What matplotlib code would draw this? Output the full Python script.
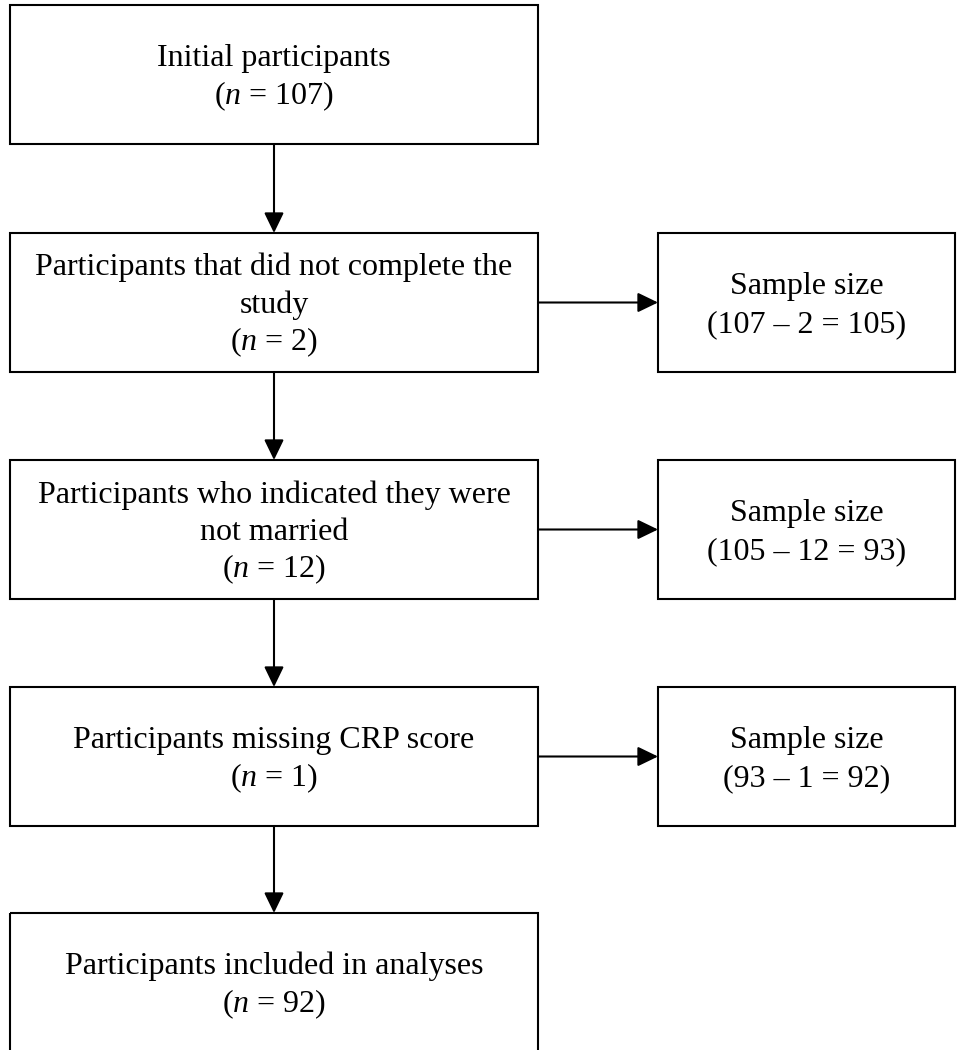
import matplotlib.pyplot as plt
from matplotlib.patches import Rectangle

plt.rcParams["font.family"] = "Liberation Serif"
plt.rcParams["mathtext.fontset"] = "custom"
plt.rcParams["mathtext.rm"] = "Liberation Serif"
plt.rcParams["mathtext.it"] = "Liberation Serif:italic"

# flow data
left_titles = [["Initial participants"],
               ["Participants that did not complete the", "study"],
               ["Participants who indicated they were", "not married"],
               ["Participants missing CRP score"],
               ["Participants included in analyses"]]
left_n = [107, 2, 12, 1, 92]
start_n = [107, 105, 93]
removed_n = [2, 12, 1]
left_n_after = [105, 93, 92]

# layout in pixels (y down)
W, H = 957, 1050
lx0, lx1 = 10, 538
rx0, rx1 = 658, 955
tops = [5, 233, 460, 687, 913]
bh = 139
lsp = 37.5
base_off = 10.5
fs = 23

fig = plt.figure(figsize=(W / 100, H / 100), dpi=100)
ax = fig.add_axes([0, 0, 1, 1])
ax.set_xlim(0, W)
ax.set_ylim(H, 0)
ax.axis("off")


def box(x0, x1, y0, lines):
    ax.add_patch(Rectangle((x0, y0), x1 - x0, bh, fill=False, ec="black", lw=1.5))
    cy = y0 + bh / 2 + base_off
    first = cy - (len(lines) - 1) * lsp / 2
    for i, t in enumerate(lines):
        ax.text((x0 + x1) / 2, first + i * lsp, t, ha="center", va="baseline", fontsize=fs)


def arrow(xy0, xy1):
    ax.annotate("", xy=xy1, xytext=xy0,
                arrowprops=dict(arrowstyle="-|>,head_length=0.62,head_width=0.3",
                                mutation_scale=20, lw=1.5, color="black",
                                shrinkA=0, shrinkB=0))


cx = (lx0 + lx1) / 2
for i, top in enumerate(tops):
    box(lx0, lx1, top, left_titles[i] + [r"($\it{n}$ = %d)" % left_n[i]])
    if i < len(tops) - 1:
        arrow((cx, top + bh), (cx, tops[i + 1]))

for j in range(3):
    top = tops[j + 1]
    box(rx0, rx1, top, ["Sample size",
                        "(%d \u2013 %d = %d)" % (start_n[j], removed_n[j], left_n_after[j])])
    arrow((lx1, top + bh / 2), (rx0, top + bh / 2))

fig.savefig("out.png", dpi=100, facecolor="white")
